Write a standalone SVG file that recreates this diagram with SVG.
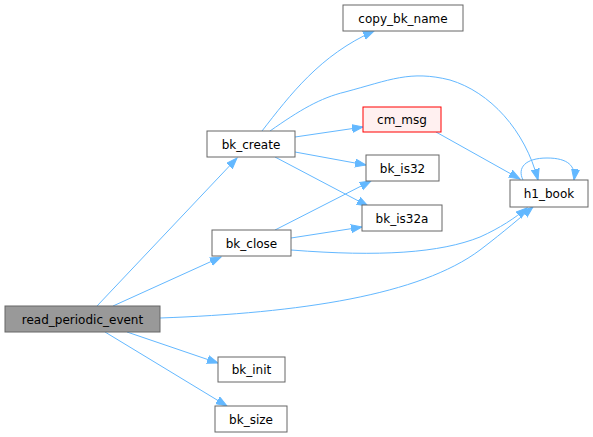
<svg xmlns="http://www.w3.org/2000/svg" width="593" height="437" viewBox="0 0 593 437">
<defs>
<style>
.n rect{fill:#fff;stroke:#666;stroke-width:1}
.n text{font-family:"DejaVu Sans",sans-serif;font-size:12px;fill:#000;text-anchor:middle}
#edges path{fill:none;stroke:#63b8ff;stroke-width:1;marker-end:url(#a)}
</style>
<marker id="a" markerUnits="userSpaceOnUse" markerWidth="12" markerHeight="10" refX="11" refY="4.5" orient="auto"><path d="M0,0.5 L11,4.5 L0,8.5 z" fill="#63b8ff" stroke="#63b8ff"/></marker>
</defs>
<rect width="593" height="437" fill="#fff"/>
<g id="edges">
<path d="M97,306 L237,158"/>
<path d="M113,306 L221,257"/>
<path d="M160,318 C300,313 420,295 480,250 C505,231 522,216 533,207"/>
<path d="M127,332 L218,363"/>
<path d="M105,332 L227,406"/>
<path d="M262,131 C290,95 320,55 374,31"/>
<path d="M270,131 C300,110 320,98 345,92 C390,80 410,70 450,80 C490,92 525,130 538,180"/>
<path d="M295,137 L363,127"/>
<path d="M295,152 L366,165"/>
<path d="M275,157 L368,206"/>
<path d="M275,230 L371,181"/>
<path d="M291,238 L362,227"/>
<path d="M291,250 C380,257 440,253 480,237 C500,228 515,218 527,208"/>
<path d="M436,132 L520,179"/>
<path d="M523,180 C517,168 525,158 547,158 C568,158 576,166 574,180"/>
</g>
<g id="read_periodic_event" class="n"><rect x="5" y="306" width="155" height="26" style="fill:#999"/><text x="82.5" y="323.5">read_periodic_event</text></g>
<g id="bk_create" class="n"><rect x="207" y="131" width="88" height="26"/><text x="251" y="148.5">bk_create</text></g>
<g id="bk_close" class="n"><rect x="212" y="230" width="79" height="26"/><text x="251.5" y="247.5">bk_close</text></g>
<g id="bk_init" class="n"><rect x="218" y="357" width="67" height="25"/><text x="251.5" y="374">bk_init</text></g>
<g id="bk_size" class="n"><rect x="215" y="406" width="72" height="26"/><text x="251" y="423.5">bk_size</text></g>
<g id="copy_bk_name" class="n"><rect x="343" y="5" width="120" height="26"/><text x="403" y="22.5">copy_bk_name</text></g>
<g id="cm_msg" class="n"><rect x="363" y="107" width="78" height="25" style="fill:#fff0f0;stroke:#f00"/><text x="402" y="124">cm_msg</text></g>
<g id="bk_is32" class="n"><rect x="366" y="155" width="73" height="26"/><text x="402.5" y="172.5">bk_is32</text></g>
<g id="bk_is32a" class="n"><rect x="362" y="205" width="80" height="26"/><text x="402" y="222.5">bk_is32a</text></g>
<g id="h1_book" class="n"><rect x="510" y="180" width="78" height="27"/><text x="549" y="198">h1_book</text></g>
</svg>
